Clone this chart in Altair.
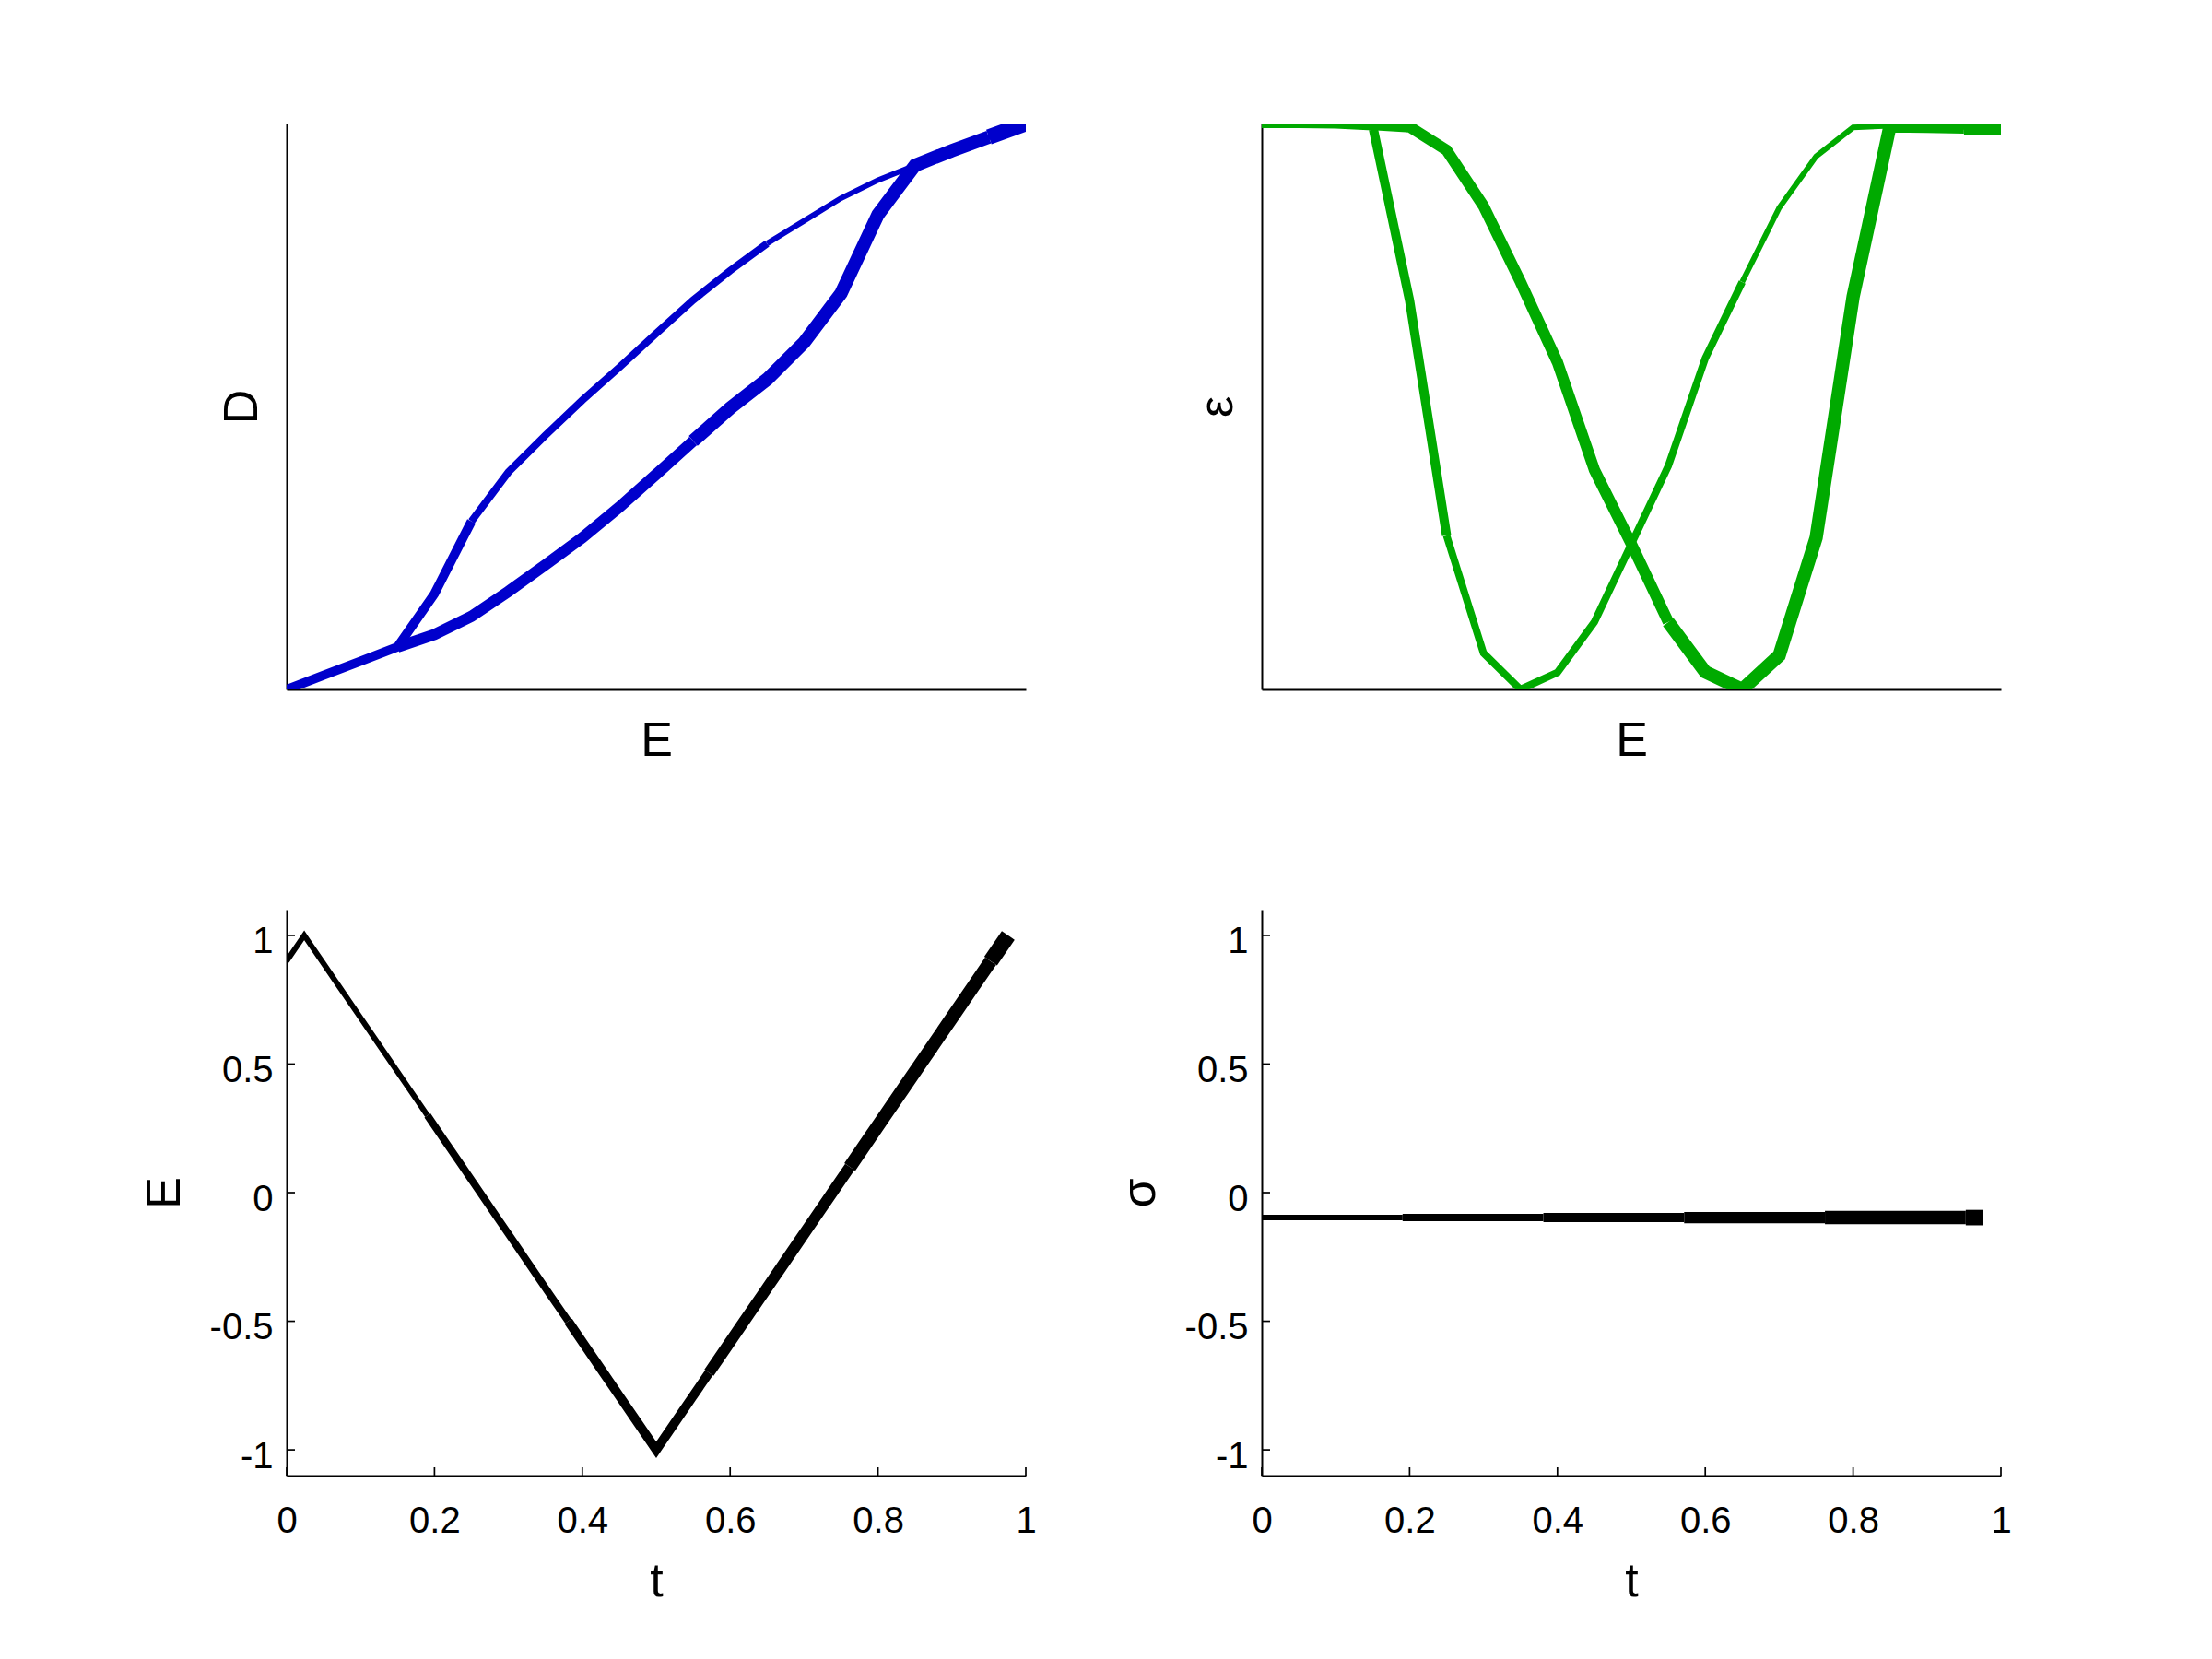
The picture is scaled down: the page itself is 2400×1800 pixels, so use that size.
import altair as alt
import pandas as pd

# sample times
T = [0.0, 0.0238, 0.0476, 0.0714, 0.0952, 0.119, 0.1429, 0.1667, 0.1905, 0.2143,
     0.2381, 0.2619, 0.2857, 0.3095, 0.3333, 0.3571, 0.381, 0.4048, 0.4286, 0.4524,
     0.4762, 0.5, 0.5238, 0.5476, 0.5714, 0.5952, 0.619, 0.6429, 0.6667, 0.6905,
     0.7143, 0.7381, 0.7619, 0.7857, 0.8095, 0.8333, 0.8571, 0.881, 0.9048, 0.9286,
     0.9524, 0.9762]
# applied field E
E = [0.9, 1.0, 0.9, 0.8, 0.7, 0.6, 0.5, 0.4, 0.3, 0.2, 0.1, 0.0, -0.1, -0.2, -0.3,
     -0.4, -0.5, -0.6, -0.7, -0.8, -0.9, -1.0, -0.9, -0.8, -0.7, -0.6, -0.5, -0.4,
     -0.3, -0.2, -0.1, 0.0, 0.1, 0.2, 0.3, 0.4, 0.5, 0.6, 0.7, 0.8, 0.9, 1.0]
# displacement D (normalised)
D = [0.952, 1.0, 0.952, 0.904, 0.852, 0.80, 0.736, 0.656, 0.576, 0.48, 0.376, 0.258,
     0.138, 0.022, -0.102, -0.232, -0.406, -0.662, -0.85, -0.90, -0.95, -1.0, -0.95,
     -0.90, -0.85, -0.806, -0.742, -0.654, -0.56, -0.464, -0.356, -0.24, -0.122,
     -0.006, 0.096, 0.226, 0.40, 0.678, 0.852, 0.904, 0.952, 1.0]
# strain epsilon (normalised)
EPS = [0.994, 0.994, 0.994, 0.995, 0.996, 0.993, 0.942, 0.851, 0.72, 0.585, 0.395,
       0.257, 0.119, 0.03, 0.0, 0.064, 0.272, 0.687, 0.996, 0.999, 1.0, 1.0, 1.0, 1.0,
       0.998, 0.994, 0.953, 0.854, 0.72, 0.578, 0.388, 0.257, 0.119, 0.031, 0.0, 0.06,
       0.268, 0.694, 0.996, 0.995, 0.994, 0.994]
# stress sigma
SIGMA = [-0.097, -0.097, -0.097, -0.097, -0.097, -0.097, -0.097, -0.097, -0.097,
         -0.097, -0.097, -0.097, -0.097, -0.097, -0.097, -0.097, -0.097, -0.097,
         -0.097, -0.097, -0.097, -0.097, -0.097, -0.097, -0.097, -0.097, -0.097,
         -0.097, -0.097, -0.097, -0.097, -0.097, -0.097, -0.097, -0.097, -0.097,
         -0.097, -0.097, -0.097, -0.097, -0.097, -0.097]

# line drawn in chunks of growing width
CHUNK_START = [0, 8, 16, 24, 32, 40]
CHUNK_END = [8, 16, 24, 32, 40, 41]
WIDTHS = [6.0, 8.0, 10.0, 12.2, 14.4, 16.8]

T_TICKS = [0, 0.2, 0.4, 0.6, 0.8, 1]
Y_TICKS = [-1, -0.5, 0, 0.5, 1]

chunks = []
for c, (s, e) in enumerate(zip(CHUNK_START, CHUNK_END)):
    rows = []
    for k in range(s, e + 1):
        rows.append({"k": k, "t": T[k], "E": E[k], "D": D[k],
                     "eps": EPS[k], "sig": SIGMA[k]})
    chunks.append(pd.DataFrame(rows))

W, H = 802, 614
FONT = "Liberation Sans"


def lines(xfield, xscale, xaxis, yfield, yscale, yaxis, color):
    out = []
    for c, cdf in enumerate(chunks):
        out.append(alt.Chart(cdf).mark_line(
            color=color, clip=True, strokeWidth=WIDTHS[c]).encode(
            x=alt.X(f"{xfield}:Q", scale=xscale, axis=xaxis, title=xaxis.title),
            y=alt.Y(f"{yfield}:Q", scale=yscale, axis=yaxis, title=yaxis.title),
            order="k:Q",
        ))
    return out


def top_panel(yfield, ydom, ytitle, color):
    xs = alt.Scale(domain=[-1, 1], nice=False, zero=False)
    ys = alt.Scale(domain=ydom, nice=False, zero=False)
    xa = alt.Axis(title="E", ticks=False, labels=False, tickSize=0, titlePadding=30)
    ya = alt.Axis(title=ytitle, ticks=False, labels=False, tickSize=0, titlePadding=22)
    return alt.layer(*lines("E", xs, xa, yfield, ys, ya, color)).properties(
        width=W, height=H)


def bottom_panel(yfield, ytitle):
    xs = alt.Scale(domain=[0, 1], nice=False, zero=False)
    ys = alt.Scale(domain=[-1.1, 1.1], nice=False, zero=False)
    xa = alt.Axis(title="t", values=T_TICKS, ticks=False, tickSize=0,
                  labelPadding=29, labelExpr="'' + datum.value",
                  labelFlush=False, labelOverlap=False, titlePadding=20)
    ya = alt.Axis(title=ytitle, values=Y_TICKS, ticks=False, tickSize=0,
                  labelPadding=15, labelOffset=7, labelExpr="'' + datum.value",
                  labelFlush=False, labelOverlap=False, titlePadding=22)
    layers = lines("t", xs, xa, yfield, ys, ya, "black")
    xt = alt.Chart(pd.DataFrame({"v": T_TICKS})).mark_rule(
        color="black", strokeWidth=1.7).encode(
        x=alt.X("v:Q", scale=xs, axis=xa, title="t"),
        y=alt.value(H), y2=alt.value(H - 9))
    yt = alt.Chart(pd.DataFrame({"v": Y_TICKS})).mark_rule(
        color="black", strokeWidth=1.7).encode(
        y=alt.Y("v:Q", scale=ys, axis=ya, title=ytitle),
        x=alt.value(0), x2=alt.value(9))
    return alt.layer(*layers, xt, yt).properties(width=W, height=H)


tl = top_panel("D", [-1, 1], "D", "#0000CC")
tr = top_panel("eps", [0, 1], "ε", "#00AA00")
bl = bottom_panel("E", "E")
br = bottom_panel("sig", "σ")

chart = alt.concat(
    tl, tr, bl, br, columns=2,
    spacing=alt.RowColnumber(row=239, column=256),
    bounds="flush",
).properties(
    padding={"left": 144, "top": 126, "right": 40, "bottom": 40},
    background="white",
).configure_axis(
    labelFont=FONT, titleFont=FONT, labelFontSize=40, titleFontSize=52,
    titleFontWeight="normal", labelColor="black", titleColor="black",
    domainColor="black", domainWidth=2, grid=False,
).configure_view(stroke=None)

chart.save("out.html", embed_options={"renderer": "svg", "actions": False})
